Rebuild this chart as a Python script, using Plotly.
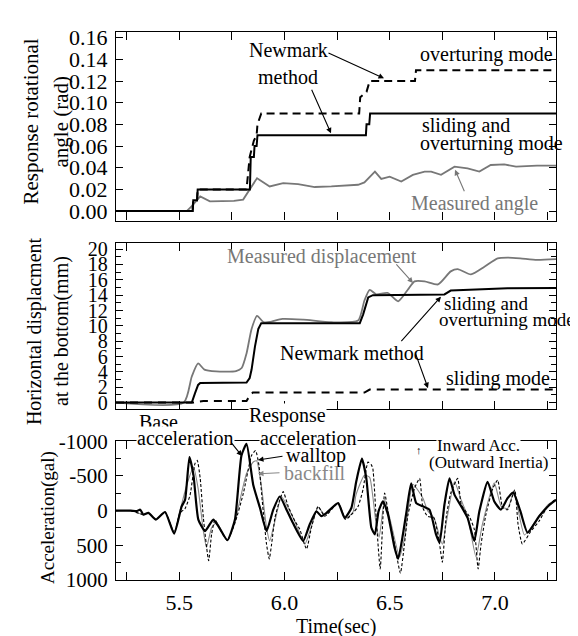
import plotly.graph_objects as go

FONT = "Liberation Serif"

# ---- top panel: rotational angle (rad)
ang_over_t = [5.20, 5.563, 5.567, 5.585, 5.588, 5.82, 5.835, 5.855, 5.868, 5.872, 5.89,
              6.355, 6.36, 6.39, 6.405, 6.62, 6.625, 7.29]
ang_over_v = [0, 0, 0.01, 0.01, 0.02, 0.02, 0.05, 0.065, 0.07, 0.08, 0.09,
              0.09, 0.105, 0.11, 0.12, 0.12, 0.13, 0.13]

ang_slide_t = [5.20, 5.565, 5.567, 5.585, 5.588, 5.836, 5.84, 5.855, 5.858, 5.868, 5.872,
               6.387, 6.39, 6.403, 6.407, 7.29]
ang_slide_v = [0, 0, 0.01, 0.01, 0.02, 0.02, 0.05, 0.05, 0.06, 0.06, 0.07,
               0.07, 0.08, 0.08, 0.09, 0.09]

ang_meas_t = [5.20, 5.536, 5.56, 5.60, 5.646, 5.70, 5.76, 5.804, 5.83, 5.87, 5.93, 5.994,
              6.065, 6.144, 6.223, 6.30, 6.35, 6.38, 6.43, 6.46, 6.50, 6.555, 6.61, 6.666,
              6.697, 6.744, 6.808, 6.87, 6.926, 6.98, 7.044, 7.10, 7.20, 7.29]
ang_meas_v = [0, 0, 0.0045, 0.0136, 0.009, 0.0092, 0.0095, 0.0106, 0.018, 0.0304, 0.0227, 0.0258,
              0.0249, 0.0222, 0.0227, 0.0235, 0.0243, 0.0265, 0.0364, 0.0297, 0.0318, 0.0273, 0.0334, 0.0364,
              0.0364, 0.0334, 0.041, 0.0394, 0.0364, 0.0425, 0.043, 0.041, 0.042, 0.042]

# ---- middle panel: horizontal displacement (mm)
dis_new_t = [5.20, 5.56, 5.575, 5.59, 5.60, 5.82, 5.835, 5.844, 5.86, 5.876, 5.89,
             6.358, 6.374, 6.398, 6.42, 6.76, 6.79, 7.06, 7.29]
dis_new_v = [0, 0, 1.2, 2.3, 2.56, 2.6, 3.2, 4.3, 7.3, 9.6, 10.35,
             10.35, 11.5, 13.7, 14.0, 14.1, 14.6, 14.9, 14.95]

dis_meas_t = [5.20, 5.522, 5.56, 5.59, 5.62, 5.676, 5.77, 5.797, 5.82, 5.844, 5.87, 5.90,
              5.93, 5.99, 6.09, 6.223, 6.35, 6.38, 6.405, 6.436, 6.49, 6.54, 6.586, 6.618,
              6.666, 6.73, 6.79, 6.823, 6.886, 6.95, 7.013, 7.06, 7.12, 7.20, 7.29]
dis_meas_v = [0, 0, 3.4, 5.1, 4.3, 4.06, 4.1, 4.5, 6.4, 9.6, 11.3, 10.5,
              10.5, 10.9, 10.8, 10.47, 10.7, 13.3, 14.7, 14.1, 14.3, 13.2, 14.7, 15.8,
              15.8, 15.4, 17.1, 17.4, 16.7, 17.7, 18.8, 18.9, 18.8, 18.6, 18.7]

dis_slide_t = [5.20, 5.567, 5.615, 5.82, 5.835, 5.85, 6.38, 6.405, 7.29]
dis_slide_v = [0, 0, 0.2, 0.2, 0.9, 1.3, 1.3, 1.7, 1.7]

# ---- bottom panel: acceleration (gal), axis reversed
base_t = [5.20, 5.27, 5.30, 5.315, 5.33, 5.354, 5.39, 5.433, 5.476, 5.512,
          5.528, 5.549, 5.568, 5.591, 5.623, 5.662, 5.686, 5.729, 5.765, 5.796,
          5.82, 5.852, 5.884, 5.915, 5.947, 5.978, 6.01, 6.04, 6.089, 6.12,
          6.152, 6.176, 6.20, 6.255, 6.286, 6.318, 6.341, 6.368, 6.389, 6.413,
          6.43, 6.447, 6.468, 6.492, 6.523, 6.54, 6.563, 6.58, 6.602, 6.626,
          6.658, 6.689, 6.72, 6.737, 6.76, 6.784, 6.808, 6.84, 6.87, 6.902,
          6.926, 6.965, 6.997, 7.028, 7.06, 7.087, 7.12, 7.155, 7.21, 7.26,
          7.29]
base_v = [0, 0, 5, -14, 57, 33, 128, 19, 332, -62,
          -156, -772, -512, 128, 294, 128, 223, 427, 128, -796,
          -962, -370, -38, 294, -14, -204, -14, 175, 436, 199,
          10, 81, 33, -109, 104, -38, -417, -749, -465, 246,
          341, 10, -133, 57, 531, 697, 341, 10, -393, -109,
          -62, -14, 341, 460, -85, -465, -228, -62, 104, 436,
          10, -417, -133, -14, -180, -260, 0, 318, 81, -85,
          -156]

wall_t = [5.20, 5.27, 5.33, 5.354, 5.39, 5.433, 5.476, 5.504, 5.528, 5.552,
          5.575, 5.586, 5.60, 5.615, 5.64, 5.654, 5.67, 5.694, 5.729, 5.765,
          5.805, 5.844, 5.863, 5.879, 5.895, 5.915, 5.928, 5.939, 5.955, 5.978,
          5.994, 6.018, 6.05, 6.073, 6.105, 6.128, 6.16, 6.192, 6.255, 6.29,
          6.326, 6.35, 6.373, 6.397, 6.413, 6.42, 6.436, 6.455, 6.476, 6.50,
          6.523, 6.551, 6.57, 6.587, 6.618, 6.642, 6.658, 6.68, 6.71, 6.737,
          6.75, 6.768, 6.79, 6.823, 6.84, 6.878, 6.902, 6.92, 6.934, 6.957,
          6.99, 7.013, 7.037, 7.06, 7.094, 7.11, 7.13, 7.17, 7.21, 7.25,
          7.29]
wall_v = [0, 0, 57, 33, 128, 19, 320, 33, -30, -228,
          -678, -725, -465, 104, 721, 341, 128, 270, 427, 180,
          -252, -796, -867, -654, -133, 484, 697, 484, 104, -156,
          -275, -62, 152, 270, 555, 246, -62, 81, -109, 128,
          33, -62, -299, -701, -660, -607, 104, 839, -252, 152,
          484, 900, 484, 57, -322, -465, -38, 81, 104, 484,
          744, 104, -252, -465, -85, 81, 270, 839, 484, 57,
          -322, -441, -38, -14, -299, 200, 480, 300, 150, -60,
          -170]

fill_t = [5.20, 5.27, 5.33, 5.354, 5.39, 5.433, 5.476, 5.504, 5.536, 5.568,
          5.59, 5.615, 5.63, 5.654, 5.678, 5.729, 5.765, 5.80, 5.82, 5.852,
          5.868, 5.89, 5.915, 5.93, 5.955, 5.986, 6.018, 6.05, 6.097, 6.128,
          6.16, 6.192, 6.255, 6.29, 6.326, 6.34, 6.38, 6.405, 6.42, 6.436,
          6.45, 6.476, 6.50, 6.547, 6.57, 6.61, 6.658, 6.68, 6.71, 6.75,
          6.77, 6.808, 6.84, 6.87, 6.91, 6.94, 6.997, 7.03, 7.06, 7.09,
          7.14, 7.20, 7.25, 7.29]
fill_v = [0, 0, 57, 33, 128, 19, 320, 0, -370, -630,
          -322, 294, 531, 246, 170, 427, 150, -300, -536, -701,
          -720, -370, 246, 436, 150, -204, -40, 160, 484, 230,
          -50, 60, -109, 110, 20, -228, -512, -480, -200, 199,
          384, -160, 100, 668, 400, -380, -180, 0, 100, 484,
          150, -417, -150, 80, 668, 200, -400, -60, -30, -270,
          350, 120, -80, -160]

acc_ticks = [-1000, -500, 0, 500, 1000]
acc_labels = ["-1000", "-500", "0", "500", "1000"]

# pixel frame of the plotting area inside the 578x636 page
L, R, T, B = 108, 548, 15, 572


def paper(x, y):
    return (x - L) / (R - L), (B - y) / (B - T)


fig = go.Figure()

fig.add_trace(go.Scatter(x=ang_meas_t, y=ang_meas_v, xaxis="x", yaxis="y", mode="lines",
                         line=dict(color="#777777", width=1.8)))
fig.add_trace(go.Scatter(x=ang_over_t, y=ang_over_v, xaxis="x", yaxis="y", mode="lines",
                         line=dict(color="black", width=2, dash="8px,5px")))
fig.add_trace(go.Scatter(x=ang_slide_t, y=ang_slide_v, xaxis="x", yaxis="y", mode="lines",
                         line=dict(color="black", width=2)))

fig.add_trace(go.Scatter(x=dis_meas_t, y=dis_meas_v, xaxis="x2", yaxis="y2", mode="lines",
                         line=dict(color="#777777", width=1.8, shape="spline", smoothing=0.6)))
fig.add_trace(go.Scatter(x=dis_slide_t, y=dis_slide_v, xaxis="x2", yaxis="y2", mode="lines",
                         line=dict(color="black", width=2, dash="8px,6px")))
fig.add_trace(go.Scatter(x=dis_new_t, y=dis_new_v, xaxis="x2", yaxis="y2", mode="lines",
                         line=dict(color="black", width=2)))

fig.add_trace(go.Scatter(x=fill_t, y=fill_v, xaxis="x3", yaxis="y3", mode="lines",
                         line=dict(color="#888888", width=1.1, shape="spline", smoothing=0.5)))
fig.add_trace(go.Scatter(x=wall_t, y=wall_v, xaxis="x3", yaxis="y3", mode="lines",
                         line=dict(color="black", width=1.1, dash="3px,2px", shape="spline", smoothing=0.5)))
fig.add_trace(go.Scatter(x=base_t, y=base_v, xaxis="x3", yaxis="y3", mode="lines",
                         line=dict(color="black", width=2.2, shape="spline", smoothing=0.5)))

tickfont = dict(family=FONT, size=22, color="black")
xcommon = dict(range=[5.2, 7.29], showline=True, linecolor="black", linewidth=1.3, mirror="ticks",
               ticks="inside", ticklen=8, tickwidth=1.3, tickcolor="black", tick0=5.5, dtick=0.5,
               minor=dict(dtick=0.25, tick0=5.25, ticks="inside", ticklen=8, tickwidth=1.3, tickcolor="black"),
               showgrid=False, zeroline=False, tickfont=tickfont, ticklabelstandoff=2,
               tickformat=".1f")
ycommon = dict(showline=True, linecolor="black", linewidth=1.3, mirror="ticks", ticks="inside",
               ticklen=7, tickwidth=1.3, tickcolor="black", showgrid=False, zeroline=False,
               tickfont=tickfont, ticklabelstandoff=3)

fig.update_layout(
    width=578, height=636,
    margin=dict(l=L, r=578 - R, t=T, b=636 - B),
    paper_bgcolor="white", plot_bgcolor="white",
    showlegend=False,
    font=dict(family=FONT, color="black"),
    xaxis=dict(xcommon, anchor="y", showticklabels=False),
    xaxis2=dict(xcommon, anchor="y2", matches="x", showticklabels=False),
    xaxis3=dict(xcommon, anchor="y3", matches="x"),
    yaxis=dict(ycommon, anchor="x", domain=[0.6558, 1.0], range=[-0.0088, 0.1652],
               tick0=0, dtick=0.02, tickformat=".2f"),
    yaxis2=dict(ycommon, anchor="x2", domain=[0.3119, 0.6158], range=[-0.85, 20.86],
                tick0=0, dtick=2, tickfont=dict(family=FONT, size=20, color="black"),
                minor=dict(dtick=1, ticks="inside", ticklen=5, tickcolor="black")),
    yaxis3=dict(ycommon, anchor="x3", domain=[0.0, 0.2531], range=[1000, -1000],
                tickmode="array", tickvals=acc_ticks, ticktext=acc_labels,
                tickfont=dict(family=FONT, size=21, color="black"),
                minor=dict(tickmode="array", tickvals=[-750, -250, 250, 750], ticks="inside",
                           ticklen=5, tickcolor="black")),
)


def label(txt, x, y, size=20, color="black", anchor="center", bg=None, angle=0):
    px_, py_ = paper(x, y)
    fig.add_annotation(text=txt, x=px_, y=py_, xref="paper", yref="paper", showarrow=False,
                       xanchor=anchor, yanchor="middle", textangle=angle,
                       font=dict(family=FONT, size=size, color=color),
                       bgcolor=bg, borderpad=0)


def arrow(hx, hy, tx, ty, color="black"):
    px_, py_ = paper(hx, hy)
    fig.add_annotation(text="", x=px_, y=py_, xref="paper", yref="paper", showarrow=True,
                       ax=tx - hx, ay=ty - hy, arrowhead=2, arrowsize=1, arrowwidth=1.1,
                       arrowcolor=color)


# axis titles
label("Response rotational", 23, 106, size=21, angle=-90)
label("angle (rad)", 53, 106, size=21, angle=-90)
label("Horizontal displacment", 26, 319, size=20, angle=-90)
label("at the bottom(mm)", 53, 319, size=20, angle=-90)
label("Acceleration(gal)", 40, 509, size=19, angle=-90)
label("Time(sec)", 328, 619, size=20)

# top panel notes
label("Newmark", 280, 33)
label("method", 280, 61)
arrow(376, 62, 319, 36)
arrow(323, 118, 303, 73)
label("overturing mode", 411, 38, anchor="left")
label("sliding and", 413, 110, anchor="left")
label("overturning mode", 411, 128, anchor="left")
label("Measured angle", 402, 189, color="#777777", anchor="left")
arrow(447, 155, 457, 178, color="#777777")

# middle panel notes
label("Measured displacement", 218, 243, color="#777777", anchor="left")
arrow(405, 270, 387, 250, color="#777777")
label("sliding and", 435, 291, size=19, anchor="left")
label("overturning mode", 430, 307, size=19, anchor="left")
label("Newmark method", 271, 341, anchor="left")
arrow(433, 284, 392, 330)
arrow(420, 377, 407, 341)
label("sliding mode", 437, 367, anchor="left")

# bottom panel notes
label("Base", 150, 411, bg="white")
label("acceleration", 177, 428, bg="white")
arrow(234, 446, 222, 431)
label("Response", 279, 405, bg="white")
label("acceleration", 300, 428, bg="white")
label("walltop", 308, 445)
arrow(250, 450, 276, 446)
label("backfill", 307, 463, color="#888888")
arrow(250, 464, 273, 463, color="#888888")
label("\u2191", 411, 440, size=11, bg="white")
label("Inward Acc.", 470, 435, size=17, bg="white")
label("(Outward Inertia)", 480, 453, size=17)

fig.write_html("out.html")
